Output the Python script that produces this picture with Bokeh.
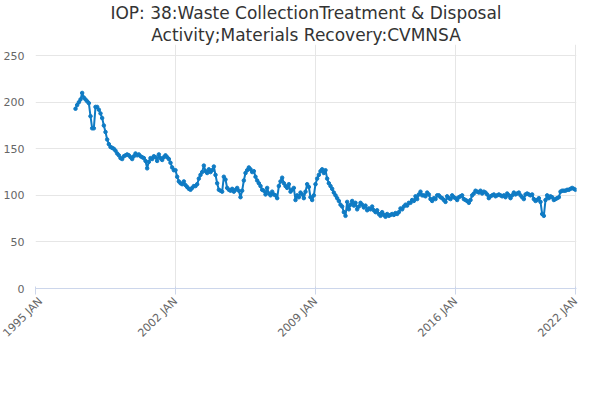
from bokeh.plotting import figure
from bokeh.models import Title, Legend, FixedTicker, Range1d, Label
from bokeh.embed import file_html
from bokeh.resources import INLINE
import math

start_year = 1997
values = [
 193,197,200,203,210,205,203,201,199,185,172,172,
 195,195,192,188,183,175,168,160,155,152,151,150,
 148,145,143,140,139,142,143,144,143,141,139,142,
 145,143,144,142,141,140,137,129,136,140,139,142,
 141,137,144,140,138,141,143,141,139,135,130,127,
 127,120,115,113,112,115,111,109,107,106,108,110,
 110,112,118,122,125,132,126,124,128,125,127,131,
 122,113,106,105,104,120,117,108,106,105,107,104,
 106,108,105,98,105,116,124,127,130,128,125,126,
 120,116,113,110,106,105,101,108,102,100,104,101,
 100,97,110,115,119,113,110,108,112,104,106,108,
 95,100,98,103,101,97,104,112,109,98,95,100,
 112,118,122,126,128,124,127,118,113,110,107,103,
 100,97,94,90,88,82,78,93,85,90,94,89,
 92,85,88,92,90,87,89,84,86,85,88,84,
 82,84,80,78,82,79,77,80,78,79,80,79,
 81,80,82,86,85,88,90,89,92,92,95,94,
 99,96,101,104,100,100,99,103,101,96,94,97,
 96,100,100,98,97,95,93,99,97,96,100,98,
 97,95,98,99,100,96,95,94,92,95,100,102,
 105,104,103,105,102,104,103,101,97,99,100,101,
 99,100,101,100,99,100,98,102,100,97,100,103,
 101,102,103,100,98,96,101,102,101,100,101,96,
 94,95,97,93,80,78,95,100,97,99,98,95,
 96,97,98,104,105,105,105,106,106,107,108,107,
 106,
]
tick_years = [1995, 2002, 2009, 2016, 2022]
tick_labels = ["1995 JAN", "2002 JAN", "2009 JAN", "2016 JAN", "2022 JAN"]
series_name = "IOP: 38:Waste CollectionTreatment & Disposal Activity;Materials Recovery:CVMNSA"

x = [start_year + i / 12 for i in range(len(values))]
color = "#0f7bc4"

p = figure(width=584, height=384, output_backend="svg", toolbar_location=None,
           x_range=Range1d(1995, 2022.05), y_range=Range1d(0, 262),
           min_border_left=10, min_border_right=8, min_border_bottom=96)
for t in ["Activity;Materials Recovery:CVMNSA", "IOP: 38:Waste CollectionTreatment & Disposal"]:
    p.add_layout(Title(text=t, align="center", text_font_size="17px",
                       text_font_style="normal", text_color="#333333",
                       text_font="DejaVu Sans", standoff=0), "above")

r1 = p.line(x, values, color=color, line_width=2)
r2 = p.scatter(x, values, color=color, size=3.5)

p.xaxis.ticker = FixedTicker(ticks=tick_years)
p.xaxis.major_label_overrides = {y: l for y, l in zip(tick_years, tick_labels)}
p.xaxis.major_label_orientation = math.pi / 4
p.yaxis.ticker = FixedTicker(ticks=[0, 50, 100, 150, 200, 250])
for ax in (p.xaxis, p.yaxis):
    ax.major_label_text_color = "#666666"
    ax.major_label_text_font_size = "11px"
    ax.major_label_text_font = "DejaVu Sans"
    ax.axis_line_color = None
    ax.major_tick_line_color = None
    ax.minor_tick_line_color = None
p.xaxis.axis_line_color = "#ccd6eb"
p.xaxis.major_tick_line_color = "#ccd6eb"
p.xgrid.grid_line_color = "#e6e6e6"
p.ygrid.grid_line_color = "#e6e6e6"
p.outline_line_color = None

legend = Legend(items=[(series_name, [r1, r2])], location=(-50, -90), orientation="horizontal",
                label_text_font_size="12px", label_text_font_style="bold",
                label_text_color="#333333", border_line_color=None, padding=0, margin=0,
                glyph_width=16, label_text_font="DejaVu Sans", background_fill_alpha=0)
p.add_layout(legend, "center")
p.add_layout(Label(x=537, y=-102, x_units="screen", y_units="screen", text="Source:",
                   text_align="right", text_font_size="12px", text_color="#666666",
                   text_font="DejaVu Sans"))

open("out.html", "w").write(file_html(p, INLINE))
